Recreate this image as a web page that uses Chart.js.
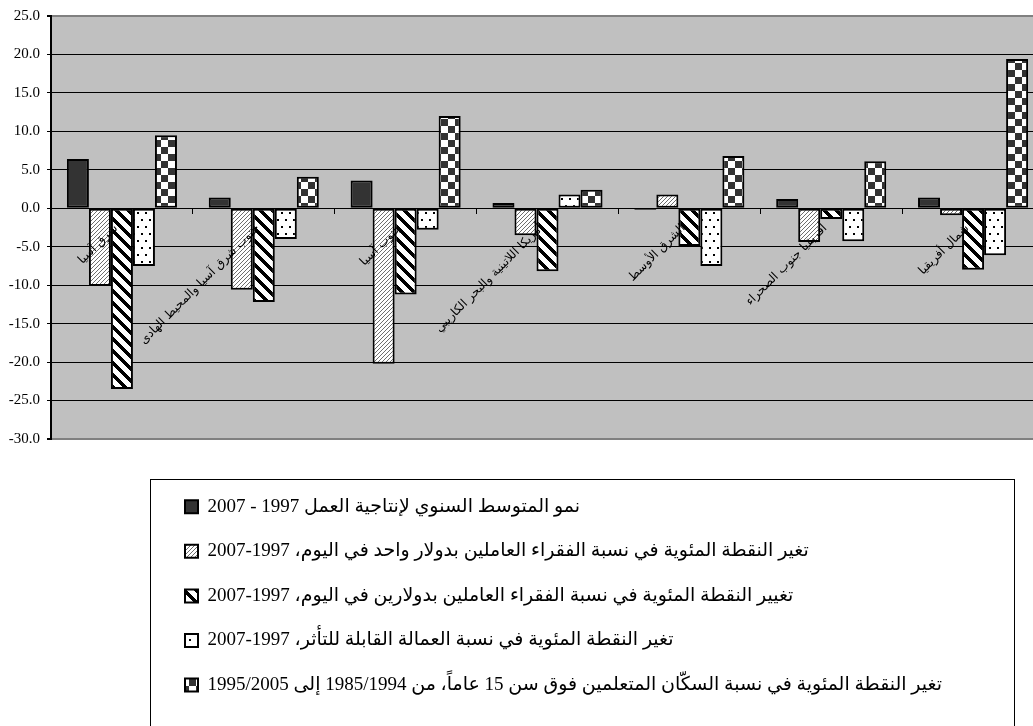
<!DOCTYPE html>
<html lang="ar">
<head>
<meta charset="utf-8">
<script src="https://cdn.jsdelivr.net/npm/chart.js@4"></script>
<style>
  html, body { margin: 0; padding: 0; background: #fff; overflow: hidden; }
  #wrap { position: absolute; left: 0; top: 0; width: 1060px; height: 760px; }
</style>
</head>
<body>
<div id="wrap"><canvas id="c"></canvas></div>
<script>
// Regions (category axis)
const regions = [
  'شرق آسيا',
  'جنوب شرق آسيا والمحيط الهادى',
  'جنوب آسيا',
  'أمريكا اللاتينية والبحر الكاريبي',
  'الشرق الأوسط',
  'أفريقيا جنوب الصحراء',
  'شمال أفريقيا'
];

// Series names
const seriesNames = [
  'نمو المتوسط السنوي لإنتاجية العمل 1997 - 2007',
  'تغير النقطة المئوية في نسبة الفقراء العاملين بدولار واحد في اليوم، 1997-2007',
  'تغيير النقطة المئوية في نسبة الفقراء العاملين بدولارين في اليوم، 1997-2007',
  'تغير النقطة المئوية في نسبة العمالة القابلة للتأثر، 1997-2007',
  'تغير النقطة المئوية في نسبة السكّان المتعلمين فوق سن 15 عاماً، من 1985/1994 إلى 1995/2005'
];

// Series values per region
const productivityGrowth = [6.4, 1.4, 3.6, 0.7, -0.2, 1.2, 1.4];
const workingPoor1 = [-10.1, -10.6, -20.2, -3.5, 1.8, -4.4, -0.9];
const workingPoor2 = [-23.5, -12.2, -11.2, -8.2, -4.9, -1.4, -8.0];
const vulnerableEmployment = [-7.5, -4.0, -2.8, 1.8, -7.5, -4.3, -6.1];
const literacyChange = [9.5, 4.1, 12.0, 2.4, 6.8, 6.1, 19.4];

// Value axis ticks
const yTickValues = [-30, -25, -20, -15, -10, -5, 0, 5, 10, 15, 20, 25];

// Right-to-left embedding so Arabic runs keep their order on an LTR canvas
const rtlText = s => '\u202B' + s + '\u202C';

// ---- fill patterns ----
function tile(w, h, paint) {
  const c = document.createElement('canvas');
  c.width = w; c.height = h;
  const g = c.getContext('2d');
  g.fillStyle = '#fff';
  g.fillRect(0, 0, w, h);
  paint(g, w, h);
  return document.getElementById('c').getContext('2d').createPattern(c, 'repeat');
}
const solidDark = '#333333';
const lightHatch = tile(4, 4, (g, w) => {
  g.fillStyle = '#6e6e6e';
  for (let i = 0; i < w; i++) g.fillRect(i, w - 1 - i, 1, 1);
});
const boldHatch = tile(12, 12, (g, w) => {
  g.fillStyle = '#000';
  for (let y = 0; y < w; y++)
    for (let x = 0; x < w; x++)
      if (((x - y) % w + w) % w < 5) g.fillRect(x, y, 1, 1);
});
const dots = tile(8, 14, g => {
  g.fillStyle = '#000';
  g.fillRect(1, 2, 2, 2);
  g.fillRect(5, 9, 2, 2);
});
const checker = tile(14, 14, g => {
  g.fillStyle = '#333';
  g.fillRect(0, 0, 7, 7);
  g.fillRect(7, 7, 7, 7);
});

const fills = [solidDark, lightHatch, boldHatch, dots, checker];
const seriesData = [productivityGrowth, workingPoor1, workingPoor2, vulnerableEmployment, literacyChange];

const datasets = seriesNames.map((name, i) => ({
  label: rtlText(name),
  data: seriesData[i],
  backgroundColor: fills[i],
  borderColor: '#000',
  borderWidth: 2,
  borderSkipped: false
}));

// grey plot background
const plotBackground = {
  id: 'plotBackground',
  beforeDraw(chart) {
    const { ctx, chartArea: a } = chart;
    ctx.save();
    ctx.fillStyle = '#c0c0c0';
    ctx.fillRect(a.left, a.top, a.right - a.left, a.bottom - a.top);
    ctx.restore();
  }
};

// legend placed in a framed box below the plot
const legendBox = {
  id: 'legendBox',
  afterLayout(chart) {
    const lg = chart.legend;
    const dy = 32.6;
    lg.top += dy; lg.bottom += dy;
    lg.left = 159.4;
  },
  afterDraw(chart) {
    const lg = chart.legend;
    const hb = lg.legendHitBoxes[0];
    const { ctx } = chart;
    ctx.save();
    ctx.strokeStyle = '#000';
    ctx.lineWidth = 1;
    ctx.strokeRect(Math.round(hb.left - 35) + 0.5, Math.round(lg.top + 7.4) + 0.5, 864, 400);
    ctx.restore();
  }
};

new Chart(document.getElementById('c'), {
  type: 'bar',
  data: { labels: regions.map(rtlText), datasets },
  options: {
    responsive: true,
    maintainAspectRatio: false,
    animation: false,
    layout: { padding: { top: 13, left: 0, right: 16, bottom: 88 } },
    datasets: { bar: { categoryPercentage: 0.776, barPercentage: 1.0 } },
    plugins: {
      tooltip: { enabled: false },
      legend: {
        position: 'bottom',
        align: 'start',
        labels: {
          boxWidth: 13,
          boxHeight: 13,
          padding: 25.6,
          color: '#000',
          font: { family: '"Liberation Serif", "DejaVu Sans"', size: 19 }
        }
      }
    },
    scales: {
      x: {
        position: { y: 0 },
        offset: true,
        grid: { display: true, drawOnChartArea: false, drawTicks: true, tickLength: 5, color: '#000', offset: true },
        border: { display: true, color: '#000', width: 1 },
        ticks: {
          z: 1,
          minRotation: 45, maxRotation: 45, autoSkip: false,
          padding: 8, labelOffset: -6,
          color: '#000',
          font: { family: '"DejaVu Sans"', size: 12 }
        }
      },
      y: {
        min: -30,
        max: 25,
        afterFit(s) { s.width = 51; },
        afterBuildTicks(s) { s.ticks = yTickValues.map(v => ({ value: v })); },
        ticks: {
          callback: v => Number(v).toFixed(1),
          color: '#000',
          padding: 7,
          font: { family: '"Liberation Serif"', size: 15 }
        },
        grid: {
          color: c => (c.tick && (c.tick.value === 25 || c.tick.value === -30)) ? '#808080' : '#000',
          lineWidth: c => (c.tick && (c.tick.value === 25 || c.tick.value === -30)) ? 2 : 1,
          tickColor: '#000',
          tickLength: 4
        },
        border: { color: '#000', width: 2 }
      }
    }
  },
  plugins: [plotBackground, legendBox]
});
</script>
</body>
</html>
